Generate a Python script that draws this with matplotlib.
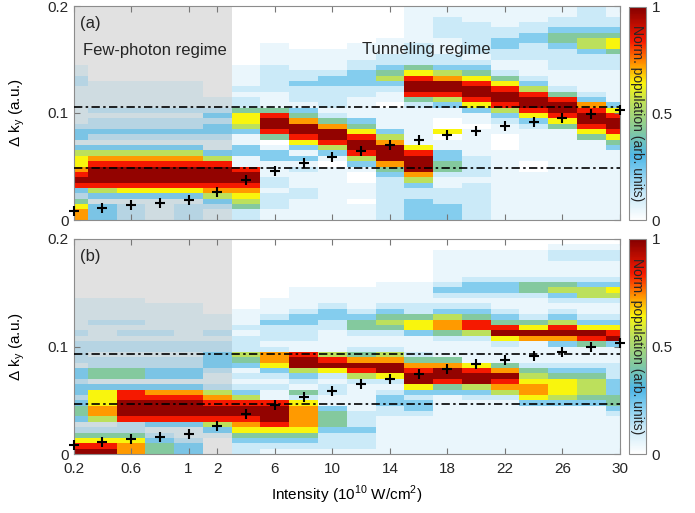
import numpy as np
import matplotlib
matplotlib.use("Agg")
import matplotlib.pyplot as plt
from matplotlib.colors import LinearSegmentedColormap

plt.rcParams["font.family"] = ["Liberation Sans", "DejaVu Sans"]
plt.rcParams["text.color"] = "#262626"
plt.rcParams["xtick.color"] = "#262626"
plt.rcParams["ytick.color"] = "#262626"

# intensity columns (10^10 W/cm^2), drawn as equally spaced categories
intensity = [0.2, 0.4, 0.6, 0.8, 1, 2, 4, 6, 8, 10, 12, 14, 16, 18, 20, 22, 24, 26, 28, 30]
tick_idx = [0, 2, 4, 5, 7, 9, 11, 13, 15, 17, 19]
tick_labels = ["0.2", "0.6", "1", "2", "6", "10", "14", "18", "22", "26", "30"]
few_photon_last = 5          # index of last few-photon column (I = 2)

# delta k_y bins (a.u.)
ky_edges = np.linspace(0, 0.2, 41)

# "+" markers
ky_marker = [0.008, 0.0115, 0.014, 0.016, 0.019, 0.026, 0.037, 0.0455, 0.053, 0.059,
             0.0647, 0.0697, 0.0744, 0.079, 0.0834, 0.0875, 0.0916, 0.0953, 0.0994, 0.103]

# dash-dot reference lines
lines_a = [0.049, 0.1056]
lines_b = [0.0464, 0.0929]

# population maps: one string per intensity column,
# rows from k_y = 0 upward in 0.005 steps, digit = colour level
levels = [0, 0.05, 0.12, 0.22, 0.42, 0.55, 0.64, 0.73, 0.84, 0.98]

pop_a = [
    "7764238987 6653133211 1111122110 0000000000",
    "3331358999 8753123221 2111110000 0000000000",
    "2221368999 8753123221 2111110000 0000000000",
    "1111368999 8753123221 2111110000 0000000000",
    "2221368999 8753123221 2111110000 0000000000",
    "1123578999 8531123323 2110000000 0000000000",
    "2245678998 1133113566 4221211110 0000000000",
    "1122212211 1331048998 4111222221 1110000000",
    "1111221112 1313689974 3122232211 1100000000",
    "1111111111 0135899742 1222233211 1100000000",
    "1110111001 3589986431 1112233322 1110000000",
    "2222222234 7999753111 1011235432 2111000000",
    "3333223579 9986111111 1248998642 2221111111",
    "3332221124 4331106001 1358997532 2111222211",
    "2222222122 2211111011 3689986432 1222222111",
    "1111111111 1110001123 5899864211 2233221111",
    "1111111110 0111111236 8998532111 2223322111",
    "1111111111 1111111468 9984211122 2234432211",
    "1111111111 1111146899 8732111122 2355432222",
    "1111111111 1113468998 6311111122 2466432211",
]

pop_b = [
    "9864213443 2332331222 2121111110 0000000000",
    "9864215776 6631442212 2111211110 0000000000",
    "7764228999 8831442212 2121211110 0000000000",
    "4432138999 8731332212 2121111100 0000000000",
    "3321138999 8731332212 2111111100 0000000000",
    "0001358998 7521123332 2121110000 0000000000",
    "2234678998 5321213452 2212111000 0000000000",
    "1234689998 1121236772 1222321110 0000000000",
    "1234677776 2412359981 1222332111 1000000000",
    "1222344431 1221269851 1112233211 1000000000",
    "1222322211 1112589742 1124432111 1000000000",
    "1111111223 3212699752 1124543211 1100000000",
    "1111111233 2369987421 1136642211 1100000000",
    "1111111111 1348997411 1247753212 3211111100",
    "1111111111 2359986111 1258843212 3321111100",
    "1111111111 2578974111 2698432112 3321111100",
    "1111111113 6776542111 1796421112 4421111100",
    "1111111113 5666432111 3798532123 5421112210",
    "1111111113 4555432111 4896321125 5321112210",
    "1111111234 4333222111 3986321125 6321112210",
]


def decode(pop):
    cols = [[levels[int(ch)] for ch in s.replace(" ", "")] for s in pop]
    return np.array(cols).T


# low values fade out so the grey band shows through them
cmap = LinearSegmentedColormap.from_list("pop", [
    (0.00, (0.31, 0.72, 0.91, 0.0)),
    (0.12, (0.31, 0.72, 0.91, 0.3)),
    (0.22, (0.31, 0.72, 0.91, 0.7)),
    (0.30, (0.31, 0.72, 0.91, 1.0)),
    (0.42, (0.52, 0.79, 0.62, 1.0)),
    (0.55, (0.74, 0.88, 0.36, 1.0)),
    (0.64, (0.98, 0.96, 0.05, 1.0)),
    (0.73, (1.00, 0.60, 0.00, 1.0)),
    (0.84, (0.97, 0.10, 0.00, 1.0)),
    (1.00, (0.52, 0.00, 0.00, 1.0)),
])

fig = plt.figure(figsize=(6.95, 5.13), dpi=100)
W, H = 695, 513
ax_a = fig.add_axes([73.5 / W, 1 - 220 / H, 546.5 / W, 214 / H])
ax_b = fig.add_axes([73.5 / W, 1 - 454 / H, 546.5 / W, 215 / H])
cax_a = fig.add_axes([629 / W, 1 - 220 / H, 17 / W, 213 / H])
cax_b = fig.add_axes([629 / W, 1 - 454 / H, 17 / W, 215 / H])

x_edges = np.arange(len(intensity) + 1) - 0.5
x_idx = np.arange(len(intensity))

for ax, cax, pop, hl, tag in [(ax_a, cax_a, pop_a, lines_a, "(a)"),
                              (ax_b, cax_b, pop_b, lines_b, "(b)")]:
    ax.axvspan(-0.5, few_photon_last + 0.5, color="#e1e1e1", zorder=0, lw=0)
    mesh = ax.pcolormesh(x_edges, ky_edges, decode(pop), cmap=cmap,
                         vmin=0, vmax=1, shading="flat", zorder=1)
    for y in hl:
        ax.axhline(y, color="black", lw=1.2, ls=(0, (5, 2, 1.5, 2)), zorder=3)
    ax.plot(x_idx, ky_marker, "+", color="black", ms=7, mew=1.5,
            zorder=4, clip_on=False)

    ax.set_xlim(0, len(intensity) - 1)
    ax.set_ylim(0, 0.2)
    ax.set_xticks(tick_idx)
    ax.set_xticklabels(tick_labels)
    ax.set_yticks([0, 0.1, 0.2])
    ax.set_yticklabels(["0", "0.1", "0.2"])
    ax.tick_params(direction="in", length=4, width=0.8, labelsize=11,
                   top=True, right=True, color="#777777")
    ax.tick_params(axis="x", pad=6)
    for sp in ax.spines.values():
        sp.set_color("#8c8c8c")
        sp.set_linewidth(0.8)
    ax.set_ylabel("Δ k$_\\mathregular{y}$ (a.u.)", fontsize=11)
    ax.yaxis.set_label_coords(-0.085, 0.5)
    ax.text(0.012, 0.92, tag, transform=ax.transAxes, fontsize=12, va="center")

    cb = fig.colorbar(mesh, cax=cax, ticks=[0, 0.5, 1])
    cb.ax.set_yticklabels(["0", "0.5", "1"])
    cb.ax.tick_params(length=0, labelsize=11, pad=4)
    cb.outline.set_edgecolor("#8c8c8c")
    cb.outline.set_linewidth(0.8)
    cax.text(0.5, 0.5, "Norm. population (arb. units)", transform=cax.transAxes,
             rotation=-90, ha="center", va="center", fontsize=10)

ax_a.tick_params(labelbottom=False)
ax_a.text(0.0174, 0.79, "Few-photon regime", transform=ax_a.transAxes,
          fontsize=12, va="center")
ax_a.text(0.527, 0.795, "Tunneling regime", transform=ax_a.transAxes,
          fontsize=12, va="center")

ax_b.set_xlabel("Intensity (10$^\\mathregular{10}$ W/cm$^\\mathregular{2}$)",
                fontsize=11, labelpad=5)

fig.savefig("out.png", dpi=100)
